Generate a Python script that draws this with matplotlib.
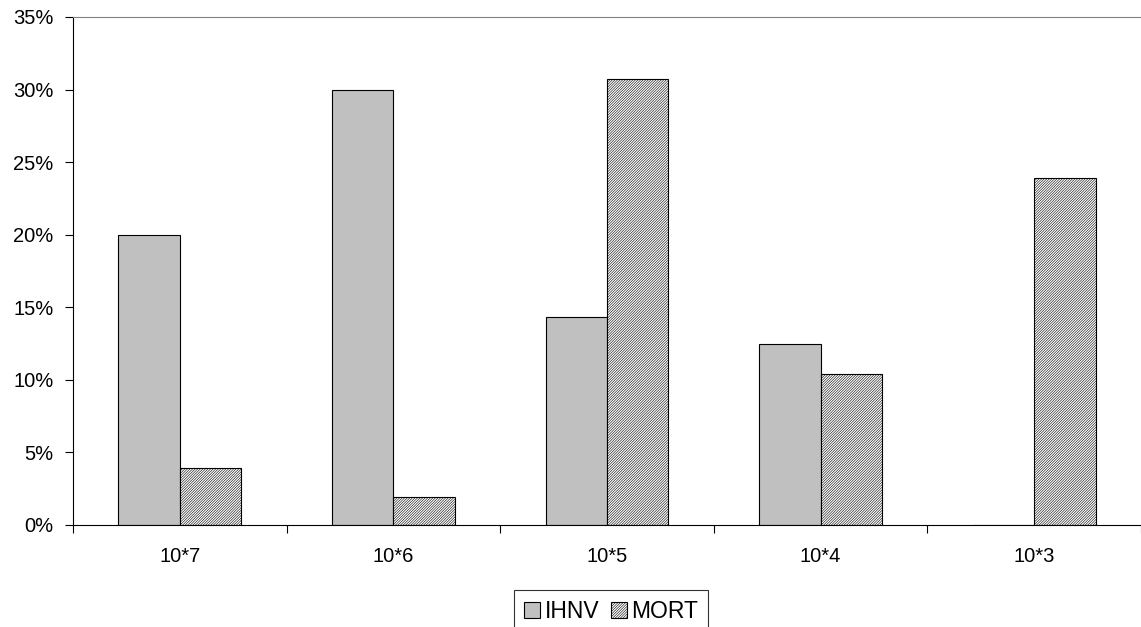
import matplotlib
matplotlib.use("Agg")
import matplotlib.pyplot as plt
import numpy as np
from matplotlib.ticker import FixedLocator, PercentFormatter

plt.rcParams['font.family'] = ['Liberation Sans', 'DejaVu Sans']
plt.rcParams['hatch.linewidth'] = 0.4

categories = ["10*7", "10*6", "10*5", "10*4", "10*3"]
ihnv = [20.0, 30.0, 14.3, 12.5, 0.0]
mort = [3.9, 1.9, 30.7, 10.4, 23.9]
series_names = ["IHNV", "MORT"]

fig = plt.figure(figsize=(11.41, 6.27), dpi=100)
ax = fig.add_axes([0.064, 0.1627, 0.936, 0.8103])

x = np.arange(len(categories))
w = 0.2875
ax.bar(x - w/2, ihnv, width=w, color="#c0c0c0", edgecolor="black", linewidth=0.8, label=series_names[0])
ax.bar(x + w/2, mort, width=w, color="white", edgecolor="black", hatch="/" * 13, linewidth=0.8, label=series_names[1])

ax.set_xlim(-0.5, len(categories) - 0.5)
ax.set_ylim(0, 35)
ax.yaxis.set_major_locator(FixedLocator(np.arange(0, 36, 5)))
ax.yaxis.set_major_formatter(PercentFormatter(decimals=0))

ax.xaxis.set_major_locator(FixedLocator(np.arange(-0.5, len(categories), 1.0)))
ax.xaxis.set_major_formatter(plt.NullFormatter())
ax.xaxis.set_minor_locator(FixedLocator(x))
ax.set_xticklabels(categories, minor=True)
ax.tick_params(axis='x', which='minor', length=0, pad=16, labelsize=14.5)
ax.tick_params(axis='x', which='major', length=6, direction='out', width=0.8)
ax.tick_params(axis='y', length=6, direction='out', width=0.8, labelsize=14.5, pad=8)

ax.spines['right'].set_visible(False)
ax.spines['top'].set_color('#808080')
ax.spines['top'].set_linewidth(0.8)
ax.spines['left'].set_linewidth(0.8)
ax.spines['bottom'].set_linewidth(0.8)

leg = fig.legend(loc='upper center', bbox_to_anchor=(0.5355, 0.059), ncol=2, frameon=True,
                 fancybox=False, edgecolor='black', fontsize=16.5, handlelength=0.7,
                 handleheight=0.7, handletextpad=0.2, columnspacing=0.5, borderpad=0.45,
                 borderaxespad=0)
leg.get_frame().set_linewidth(0.8)
for h in leg.legend_handles:
    h.set_linewidth(0.8)

fig.savefig("out.png", dpi=100)
